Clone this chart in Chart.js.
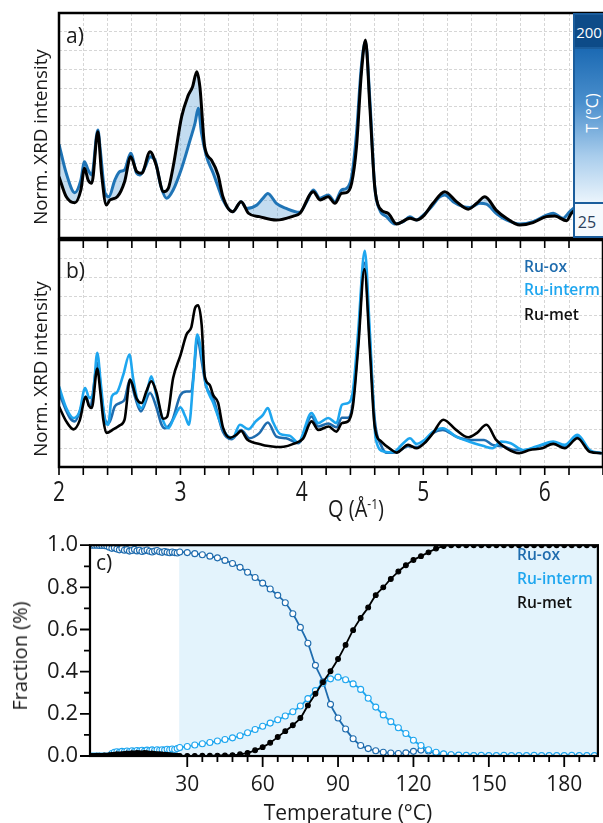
<!DOCTYPE html>
<html>
<head>
<meta charset="utf-8">
<script src="https://cdn.jsdelivr.net/npm/chart.js@4.4.0/dist/chart.umd.min.js"></script>
<style>
  body { margin: 0; background: #fff; }
  #page { position: relative; width: 603px; height: 823px; overflow: hidden;
          font-family: 'Open Sans', sans-serif; color: #1a1a1a; }
  .panel { position: absolute; left: 0; width: 603px; }
  .txt { position: absolute; white-space: nowrap; line-height: 1; }
  .rot { transform: translate(-50%, -50%) rotate(-90deg); }
  .mid { transform: translate(-50%, -50%); }
  .key { position: absolute; white-space: nowrap; font-weight: 600; font-size: 15px;
         line-height: 1; transform: translateY(-50%) scale(1.04, 1.1); transform-origin: left center; }
  #cbar { position: absolute; left: 573px; top: 13px; width: 34px; height: 225px;
          box-sizing: border-box; border: 2px solid #1b5d9c; }
  #cbar .top { position: absolute; left: 0; right: 0; top: 0; height: 32px; background: #0d4b88;
               border-bottom: 2px solid #1b5d9c; }
  #cbar .grad { position: absolute; left: 0; right: 0; top: 34px; bottom: 34px;
                background: linear-gradient(to bottom, #1c6ab3 0%, #4a8fcd 35%, #a9cdec 70%, #eaf4fc 100%); }
  #cbar .bot { position: absolute; left: 0; right: 0; bottom: 0; height: 32px; background: #f5f9fd;
               border-top: 2px solid #1b5d9c; }
</style>
</head>
<body>
<div id="page">
  <div class="panel" style="top:0; height:240px;"><canvas id="xrd-temp"></canvas></div>
  <div class="panel" style="top:238px; height:285px;"><canvas id="xrd-ref"></canvas></div>
  <div class="panel" style="top:520px; height:303px;"><canvas id="fractions"></canvas></div>

  <div id="cbar">
    <div class="top"></div>
    <div class="grad"></div>
    <div class="bot"></div>
  </div>
  <div class="txt mid" style="left:589px; top:32px; font-size:15px; color:#fff;">200</div>
  <div class="txt rot" style="left:592px; top:113px; font-size:16px; color:#fff;">T (°C)</div>
  <div class="txt mid" style="left:587px; top:222px; font-size:16px; color:#2b3f5c;">25</div>

  <div class="txt rot" style="left:40px; top:137px; font-size:18px; transform: translate(-50%, -50%) rotate(-90deg) scaleX(1.04);">Norm. XRD intensity</div>
  <div class="txt rot" style="left:40px; top:369px; font-size:18px; transform: translate(-50%, -50%) rotate(-90deg) scaleX(1.04);">Norm. XRD intensity</div>
  <div class="txt" style="left:356px; top:509px; font-size:20px; transform: translate(-50%, -50%) scaleY(1.15);">Q (Å<sup style="font-size:12px;">-1</sup>)</div>
  <div class="txt rot" style="left:20px; top:656px; font-size:20px;">Fraction (%)</div>
  <div class="txt mid" style="left:348px; top:812px; font-size:21px;">Temperature (°C)</div>

  <div class="txt" style="left:66px; top:25px; font-size:21px;">a)</div>
  <div class="txt" style="left:66px; top:260px; font-size:21px;">b)</div>
  <div class="txt" style="left:96px; top:552px; font-size:21px;">c)</div>

  <div class="key" style="left:524px; top:266px; color:#1f6cae;">Ru-ox</div>
  <div class="key" style="left:524px; top:289px; color:#1ea6ef;">Ru-interm</div>
  <div class="key" style="left:524px; top:314px; color:#111;">Ru-met</div>
  <div class="key" style="left:517px; top:554px; color:#1f6cae;">Ru-ox</div>
  <div class="key" style="left:517px; top:578px; color:#1ea6ef;">Ru-interm</div>
  <div class="key" style="left:517px; top:602px; color:#111;">Ru-met</div>
</div>

<script>
/* ---------- XRD patterns, [Q (1/A), normalised intensity] ---------- */

// a) pattern at the start (25 C) and at the end (200 C) of the ramp
var XRD_25C = [
  [2.00,5.0],[2.06,3.45],[2.13,2.42],[2.18,3.09],[2.21,4.07],[2.24,3.63],[2.27,3.36],
  [2.32,5.76],[2.34,4.69],[2.38,2.38],[2.41,2.2],[2.46,3.09],[2.50,3.54],[2.54,3.63],
  [2.59,4.52],[2.64,3.45],[2.665,3.36],[2.71,3.8],[2.75,4.34],[2.79,4.16],[2.84,2.74],
  [2.886,2.12],[2.94,2.56],[3.01,3.72],[3.08,5.23],[3.12,6.12],[3.147,6.92],[3.174,5.58],
  [3.215,4.34],[3.27,3.45],[3.31,2.74],[3.35,2.03],[3.43,1.4],[3.50,1.94],[3.545,1.58],
  [3.63,1.76],[3.68,2.12],[3.72,2.38],[3.79,1.85],[3.87,1.58],[3.98,1.37],[4.04,1.94],
  [4.094,2.56],[4.15,2.12],[4.217,2.3],[4.272,1.94],[4.327,2.56],[4.368,2.65],[4.41,3.27],
  [4.45,5.58],[4.49,9.14],[4.524,10.47],[4.56,7.36],[4.60,2.74],[4.642,1.49],[4.697,1.14],
  [4.766,0.75],[4.835,0.87],[4.89,1.14],[4.944,0.96],[5.00,1.22],[5.068,1.67],[5.136,2.2],
  [5.177,2.3],[5.246,1.94],[5.328,1.67],[5.383,1.63],[5.465,1.85],[5.52,1.81],[5.60,1.32],
  [5.685,0.96],[5.795,0.75],[5.904,0.87],[6.014,1.22],[6.07,1.32],[6.15,1.05],[6.206,1.4],
  [6.27,1.7],[6.37,0.9],[6.47,0.75]
];
var XRD_200C = [
  [2.00,3.27],[2.06,2.2],[2.13,1.88],[2.18,2.56],[2.21,3.72],[2.24,3.09],[2.27,2.92],
  [2.32,5.67],[2.35,3.45],[2.39,1.76],[2.42,2.03],[2.48,2.2],[2.54,3.0],[2.59,4.34],
  [2.64,3.54],[2.68,3.45],[2.75,4.6],[2.80,3.89],[2.86,2.47],[2.90,2.65],[2.94,3.8],
  [3.01,6.47],[3.06,7.54],[3.10,8.07],[3.135,8.87],[3.16,8.07],[3.20,4.87],[3.255,4.16],
  [3.31,3.36],[3.35,2.2],[3.43,1.4],[3.50,1.94],[3.56,1.32],[3.65,1.14],[3.79,0.96],
  [3.93,1.17],[3.984,1.32],[4.094,2.47],[4.15,2.03],[4.217,2.2],[4.272,1.85],[4.327,2.38],
  [4.368,2.42],[4.41,2.92],[4.45,4.87],[4.49,8.78],[4.524,10.56],[4.56,7.0],[4.60,2.74],
  [4.642,1.58],[4.71,1.32],[4.78,0.75],[4.89,1.05],[4.944,0.96],[5.00,1.17],[5.08,1.85],
  [5.177,2.47],[5.273,1.94],[5.37,1.54],[5.44,1.85],[5.507,2.2],[5.60,1.49],[5.685,1.05],
  [5.795,0.69],[5.904,0.82],[6.014,1.14],[6.083,1.17],[6.18,0.92],[6.22,1.32],[6.27,1.55],
  [6.37,0.8],[6.47,0.73]
];

// b) reference components
var RU_OX_XRD = [
  [2.00,3.9],[2.09,2.59],[2.13,2.41],[2.19,3.29],[2.22,3.73],[2.255,3.2],[2.32,5.51],
  [2.35,3.73],[2.385,2.41],[2.41,2.32],[2.46,3.2],[2.50,3.38],[2.54,3.56],[2.585,4.62],
  [2.625,3.73],[2.675,2.94],[2.75,3.91],[2.80,3.2],[2.845,2.23],[2.87,2.05],[2.93,2.41],
  [3.00,3.8],[3.05,3.99],[3.09,4.0],[3.11,5.0],[3.14,6.8],[3.175,5.6],[3.21,4.3],
  [3.27,3.64],[3.35,1.87],[3.42,1.47],[3.50,1.95],[3.57,1.52],[3.65,1.79],[3.72,2.35],
  [3.79,1.61],[3.87,1.52],[3.97,1.26],[4.08,2.67],[4.135,2.14],[4.217,2.3],[4.285,2.1],
  [4.33,2.6],[4.38,2.6],[4.42,3.4],[4.463,6.5],[4.515,10.8],[4.56,6.6],[4.60,2.5],
  [4.656,1.1],[4.70,0.75],[4.78,0.78],[4.875,1.1],[4.944,1.05],[5.01,1.3],[5.08,1.8],
  [5.16,1.96],[5.27,1.61],[5.38,1.43],[5.50,1.43],[5.57,1.17],[5.66,1.08],[5.75,0.9],
  [5.82,0.88],[5.93,1.05],[6.07,1.3],[6.165,1.1],[6.27,1.6],[6.37,0.85],[6.47,0.73]
];
var RU_INTERM_XRD = [
  [2.00,4.26],[2.06,3.12],[2.12,2.59],[2.17,2.94],[2.215,4.18],[2.25,3.65],[2.28,3.82],
  [2.315,6.04],[2.345,4.35],[2.38,2.41],[2.405,2.23],[2.435,3.73],[2.475,3.93],[2.53,4.89],
  [2.58,5.95],[2.61,4.71],[2.655,3.29],[2.68,3.12],[2.72,3.82],[2.76,4.8],[2.80,3.82],
  [2.86,2.41],[2.90,2.05],[2.94,2.5],[3.00,3.15],[3.04,2.67],[3.07,2.23],[3.105,4.53],
  [3.138,7.0],[3.175,5.95],[3.21,4.35],[3.27,3.4],[3.325,2.41],[3.38,1.7],[3.43,1.55],
  [3.49,2.23],[3.56,2.0],[3.62,2.41],[3.68,2.76],[3.72,3.12],[3.76,2.41],[3.82,1.75],
  [3.90,1.65],[3.97,1.3],[4.08,2.85],[4.135,2.32],[4.217,2.59],[4.285,2.32],[4.33,3.29],
  [4.38,3.38],[4.42,4.0],[4.463,7.1],[4.518,11.43],[4.56,7.1],[4.61,1.43],[4.68,0.81],
  [4.75,0.78],[4.835,1.26],[4.89,1.52],[4.944,1.22],[5.01,1.43],[5.08,1.87],[5.16,2.05],
  [5.27,1.61],[5.38,1.34],[5.49,1.12],[5.57,0.99],[5.64,1.34],[5.72,1.26],[5.82,0.9],
  [5.93,1.08],[6.07,1.34],[6.165,1.17],[6.27,1.7],[6.37,0.9],[6.47,0.73]
];
var RU_MET_XRD = [
  [2.00,3.2],[2.06,2.41],[2.12,1.99],[2.17,2.45],[2.22,3.7],[2.245,3.25],[2.27,3.12],
  [2.315,5.2],[2.34,4.0],[2.365,2.5],[2.39,1.8],[2.45,2.0],[2.50,2.2],[2.54,2.5],
  [2.585,4.62],[2.64,3.6],[2.68,3.38],[2.72,4.0],[2.76,4.53],[2.80,4.0],[2.86,2.55],
  [2.89,2.65],[2.94,4.7],[3.00,5.9],[3.05,7.0],[3.09,7.4],[3.12,8.4],[3.145,8.55],
  [3.175,7.5],[3.20,4.8],[3.24,4.35],[3.27,3.8],[3.31,3.4],[3.35,2.1],[3.41,1.55],
  [3.46,1.7],[3.50,1.9],[3.55,1.45],[3.60,1.3],[3.65,1.22],[3.71,1.12],[3.79,1.06],
  [3.85,1.07],[3.93,1.22],[4.01,1.5],[4.08,2.41],[4.135,1.96],[4.22,2.14],[4.285,1.87],
  [4.33,2.32],[4.38,2.41],[4.42,3.2],[4.465,6.4],[4.515,10.46],[4.56,6.2],[4.60,2.14],
  [4.655,1.34],[4.74,0.9],[4.78,0.76],[4.875,1.17],[4.945,0.99],[5.01,1.26],[5.08,1.79],
  [5.165,2.5],[5.27,1.96],[5.37,1.57],[5.44,1.79],[5.52,2.23],[5.60,1.43],[5.685,0.99],
  [5.79,0.73],[5.875,0.9],[5.98,0.99],[6.07,1.22],[6.165,0.99],[6.27,1.52],[6.37,0.81],
  [6.47,0.73]
];
var Q_LABELS = [2, 3, 4, 5, 6];

/* ---------- c) phase fractions vs temperature ---------- */
var TEMP_C = [
  -8,-7,-6,-5,-4,-3,-2,-1,0,1,2,3,4,5,6,7,8,9,10,11,12,13,14,15,16,17,18,19,20,21,22,23,24,25,26,
  27,30,33,36,39,42,45,48,51,54,57,60,63,66,69,72,75,78,81,84,87,90,93,96,99,102,105,108,111,114,
  117,120,123,126,129,132,135,138,141,144,147,150,153,156,159,162,165,168,171,174,177,180,183,186,189,192
];
var RU_OX_FRAC = [
  1.0,1.0,1.0,0.999,0.999,0.998,0.996,0.99,0.985,0.988,0.982,0.978,0.984,0.976,0.979,0.972,0.975,0.98,
  0.973,0.976,0.97,0.974,0.977,0.971,0.968,0.972,0.975,0.969,0.966,0.97,0.967,0.964,0.968,0.965,0.963,
  0.968,0.965,0.96,0.955,0.948,0.94,0.928,0.913,0.895,0.872,0.847,0.82,0.792,0.762,0.727,0.675,0.61,
  0.535,0.43,0.352,0.245,0.18,0.128,0.082,0.05,0.035,0.025,0.018,0.014,0.012,0.015,0.022,0.028,0.024,
  0.014,0.008,0.004,0.002,0.001,0.001,0,0,0,0,0,0,0,0,0,0,0,0,0,0,0,0
];
var RU_INTERM_FRAC = [
  0,0,0,0,0,0,0,0,0.012,0.018,0.02,0.017,0.022,0.02,0.024,0.021,0.025,0.022,0.026,0.024,0.027,0.023,
  0.028,0.025,0.029,0.026,0.03,0.027,0.03,0.028,0.032,0.03,0.033,0.031,0.035,
  0.04,0.045,0.052,0.058,0.064,0.071,0.078,0.086,0.096,0.11,0.126,0.141,0.156,0.172,0.19,0.21,0.237,
  0.272,0.31,0.345,0.366,0.374,0.362,0.342,0.316,0.274,0.232,0.195,0.163,0.134,0.107,0.075,0.05,0.03,
  0.018,0.01,0.006,0.004,0.003,0.002,0.003,0.002,0.002,0.003,0.002,0.002,0.002,0.003,0.002,0.002,0.002,
  0.002,0.003,0.002,0.002,0.002
];
var RU_MET_FRAC = [
  0,0,0.001,0.002,0,0.003,0.002,0.004,0.005,0.006,0.008,0.007,0.009,0.01,0.012,0.011,0.013,0.012,0.014,
  0.013,0.012,0.014,0.013,0.011,0.012,0.01,0.009,0.008,0.007,0.006,0.005,0.004,0.003,0.002,0.001,
  0,0,0,0.001,0.001,0.002,0.003,0.004,0.008,0.015,0.027,0.042,0.063,0.09,0.118,0.146,0.18,0.24,0.295,
  0.35,0.402,0.46,0.527,0.597,0.655,0.705,0.763,0.8,0.84,0.875,0.905,0.93,0.948,0.966,0.984,0.996,1,1,
  1,1,1,1,1,1,1,1,1,1,1,1,1,1,1,1,1,1
];
var TEMP_TICKS = [30, 60, 90, 120, 150, 180];
var RAMP_START = 26.8;   // isothermal hold ends here

var BLUE_OX     = '#1f6cae';
var BLUE_INTERM = '#1ea6ef';
var BLUE_25C    = '#1f74b6';

Chart.defaults.font.family = "'Open Sans', sans-serif";
Chart.defaults.color = '#1a1a1a';

function toPoints(pairs) {
    return pairs.map(function (p) { return { x: p[0], y: p[1] }; });
}

function fracPoints(values) {
    return TEMP_C.map(function (t, i) { return { x: t, y: values[i] }; });
}

function xrdLine(label, pairs, color, width, order) {
    return {
        label: label,
        data: toPoints(pairs),
        borderColor: color,
        borderWidth: width,
        pointRadius: 0,
        cubicInterpolationMode: 'monotone',
        fill: false,
        order: order
    };
}

// thick black box round the plot area
var framePlugin = {
    id: 'frame',
    afterDraw: function (chart, args, opts) {
        var a = chart.chartArea, ctx = chart.ctx;
        ctx.save();
        ctx.strokeStyle = '#000';
        ctx.lineWidth = opts.width || 2.5;
        ctx.strokeRect(a.left, a.top, a.right - a.left, a.bottom - a.top);
        ctx.restore();
    }
};

// light band spanned by the intermediate patterns of the ramp
var bandPlugin = {
    id: 'band',
    beforeDatasetsDraw: function (chart) {
        var lo = chart.getDatasetMeta(0).data;
        var hi = chart.getDatasetMeta(1).data;
        var a = chart.chartArea, ctx = chart.ctx;
        ctx.save();
        ctx.beginPath();
        ctx.rect(a.left, a.top, a.right - a.left, a.bottom - a.top);
        ctx.clip();
        ctx.beginPath();
        lo.forEach(function (p, i) { if (i) ctx.lineTo(p.x, p.y); else ctx.moveTo(p.x, p.y); });
        for (var i = hi.length - 1; i >= 0; i--) ctx.lineTo(hi[i].x, hi[i].y);
        ctx.closePath();
        ctx.fillStyle = 'rgba(98,162,216,0.38)';
        ctx.fill();
        ctx.restore();
    }
};

// Q axis: ticks on both edges of panel b, labels slightly stretched
var qAxisPlugin = {
    id: 'qaxis',
    afterDraw: function (chart) {
        var xs = chart.scales.x, a = chart.chartArea, ctx = chart.ctx;
        ctx.save();
        ctx.strokeStyle = '#000';
        ctx.lineWidth = 1.6;
        ctx.beginPath();
        xs.ticks.forEach(function (t) {
            var x = xs.getPixelForValue(t.value);
            ctx.moveTo(x, a.bottom); ctx.lineTo(x, a.bottom + 8);
            ctx.moveTo(x, a.top);    ctx.lineTo(x, a.top + 8);
        });
        ctx.stroke();
        ctx.fillStyle = '#1a1a1a';
        ctx.font = "21px 'Open Sans'";
        ctx.textAlign = 'center';
        ctx.textBaseline = 'middle';
        Q_LABELS.forEach(function (q) {
            ctx.save();
            ctx.translate(xs.getPixelForValue(q), a.bottom + 26);
            ctx.scale(1, 1.3);
            ctx.fillText(String(q), 0, 0);
            ctx.restore();
        });
        ctx.restore();
    }
};

// shaded temperature ramp + major/minor ticks for panel c
var rampPlugin = {
    id: 'ramp',
    beforeDatasetsDraw: function (chart) {
        var a = chart.chartArea, ctx = chart.ctx;
        var x0 = chart.scales.x.getPixelForValue(RAMP_START);
        ctx.save();
        ctx.fillStyle = '#e3f3fc';
        ctx.fillRect(x0, a.top, a.right - x0, a.bottom - a.top);
        ctx.restore();
    },
    afterDraw: function (chart) {
        var xs = chart.scales.x, ys = chart.scales.y, a = chart.chartArea, ctx = chart.ctx;
        ctx.save();
        ctx.strokeStyle = '#000';
        ctx.lineWidth = 1.8;
        ctx.beginPath();
        for (var t = 30; t <= 192; t += 6) {
            var x = xs.getPixelForValue(t);
            ctx.moveTo(x, a.bottom);
            ctx.lineTo(x, a.bottom + (t % 30 === 0 ? 11 : 6));
        }
        for (var k = 0; k <= 10; k++) {
            var y = ys.getPixelForValue(k / 10);
            ctx.moveTo(a.left, y);
            ctx.lineTo(a.left - (k % 2 === 0 ? 10 : 6), y);
        }
        ctx.stroke();
        ctx.restore();
    }
};

function xrdScales(bottomHeight) {
    return {
        x: {
            type: 'linear',
            min: 2,
            max: 6.48,
            ticks: { stepSize: 0.2, display: false },
            grid: { color: '#d6d6d6', lineWidth: 1, drawTicks: false },
            border: { display: false, dash: [3, 2] },
            afterFit: function (s) { s.height = bottomHeight; }
        },
        y: {
            min: 0,
            max: 12,
            ticks: { stepSize: 1, display: false },
            grid: { color: '#d6d6d6', lineWidth: 1, drawTicks: false },
            border: { display: false, dash: [3, 2] },
            afterFit: function (s) { s.width = 59; }
        }
    };
}

new Chart(document.getElementById('xrd-temp'), {
    type: 'line',
    data: {
        datasets: [
            xrdLine('25 °C', XRD_25C, BLUE_25C, 3, 1),
            xrdLine('200 °C', XRD_200C, '#000', 3, 0)
        ]
    },
    options: {
        responsive: true,
        maintainAspectRatio: false,
        animation: false,
        layout: { padding: { top: 13, left: 0, right: 0, bottom: 0 } },
        plugins: { legend: { display: false }, tooltip: { enabled: false }, frame: { width: 2.5 } },
        scales: xrdScales(2)
    },
    plugins: [bandPlugin, framePlugin]
});

new Chart(document.getElementById('xrd-ref'), {
    type: 'line',
    data: {
        datasets: [
            xrdLine('Ru-ox', RU_OX_XRD, BLUE_OX, 2.6, 2),
            xrdLine('Ru-interm', RU_INTERM_XRD, BLUE_INTERM, 2.6, 1),
            xrdLine('Ru-met', RU_MET_XRD, '#000', 2.6, 0)
        ]
    },
    options: {
        responsive: true,
        maintainAspectRatio: false,
        animation: false,
        layout: { padding: { top: 2, left: 0, right: 0, bottom: 0 } },
        plugins: { legend: { display: false }, tooltip: { enabled: false }, frame: { width: 2.5 } },
        scales: xrdScales(56)
    },
    plugins: [framePlugin, qAxisPlugin]
});

function fracSeries(label, values, color, filled, order) {
    return {
        label: label,
        data: fracPoints(values),
        borderColor: color,
        borderWidth: 1.8,
        pointRadius: filled ? 2.4 : 3,
        pointBorderWidth: 1.1,
        pointBorderColor: color,
        pointBackgroundColor: filled ? color : '#fff',
        cubicInterpolationMode: 'monotone',
        fill: false,
        order: order
    };
}

new Chart(document.getElementById('fractions'), {
    type: 'line',
    data: {
        datasets: [
            fracSeries('Ru-ox', RU_OX_FRAC, BLUE_OX, false, 2),
            fracSeries('Ru-interm', RU_INTERM_FRAC, BLUE_INTERM, false, 1),
            fracSeries('Ru-met', RU_MET_FRAC, '#000', true, 0)
        ]
    },
    options: {
        responsive: true,
        maintainAspectRatio: false,
        animation: false,
        layout: { padding: { top: 13, left: 0, right: 1, bottom: 0 } },
        plugins: { legend: { display: false }, tooltip: { enabled: false }, frame: { width: 2.2 } },
        scales: {
            x: {
                type: 'linear',
                min: -8.7,
                max: 193.4,
                afterBuildTicks: function (s) {
                    s.ticks = TEMP_TICKS.map(function (v) { return { value: v }; });
                },
                ticks: { padding: 16, font: { size: 21 }, color: '#1a1a1a', maxRotation: 0, autoSkip: false },
                grid: { display: false, drawTicks: false },
                border: { display: false },
                afterFit: function (s) { s.height = 67; }
            },
            y: {
                min: 0,
                max: 1,
                ticks: {
                    stepSize: 0.2,
                    padding: 12,
                    font: { size: 22 },
                    color: '#1a1a1a',
                    callback: function (v) { return v.toFixed(1); }
                },
                grid: { display: false, drawTicks: false },
                border: { display: false },
                afterFit: function (s) { s.width = 90; }
            }
        }
    },
    plugins: [rampPlugin, framePlugin]
});
</script>
</body>
</html>
